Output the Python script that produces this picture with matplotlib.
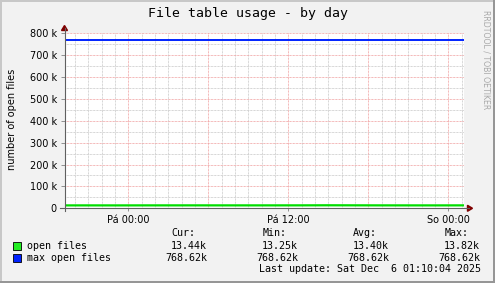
import matplotlib
matplotlib.use("Agg")
import matplotlib.pyplot as plt
from matplotlib.lines import Line2D
from matplotlib.patches import Polygon, Rectangle
from matplotlib.ticker import FixedLocator, MultipleLocator

# ---------------- data ----------------
title = "File table usage - by day"
ylabel = "number of open files"
hours = [-4.78, -3.0, -1.0, 1.0, 3.0, 5.0, 7.0, 9.0, 11.0, 13.0, 15.0, 17.0, 19.0, 21.0, 23.0, 25.2]
open_files = [13300, 13350, 13250, 13380, 13420, 13450, 13400, 13380, 13420, 13500, 13820, 13600, 13400, 13350, 13300, 13440]
max_open_files = [768620] * len(hours)
xtick_pos = [0, 12, 24]
xtick_labels = ["Pá 00:00", "Pá 12:00", "So 00:00"]
ytick_vals = [0, 100000, 200000, 300000, 400000, 500000, 600000, 700000, 800000]
ytick_labels = ["0", "100 k", "200 k", "300 k", "400 k", "500 k", "600 k", "700 k", "800 k"]
series_names = ["open files", "max open files"]
series_colors = ["#00dd00", "#0022ff"]
stat_headers = ["Cur:", "Min:", "Avg:", "Max:"]
stats = [["13.44k", "13.25k", "13.40k", "13.82k"],
         ["768.62k", "768.62k", "768.62k", "768.62k"]]
last_update = "Last update: Sat Dec  6 01:10:04 2025"
x_min, x_max = -4.785, 25.215

W, H = 495, 283
fig = plt.figure(figsize=(W / 100, H / 100), dpi=100)
fig.patch.set_facecolor("#f2f2f2")

def fx(px):
    return px / W

def fy(py):
    return 1 - py / H

# plot area in pixels
L, R, T, B = 64.5, 464.5, 33.3, 208.3
ax = fig.add_axes([fx(L), fy(B), fx(R - L), (B - T) / H])
ax.set_facecolor("white")
ax.set_xlim(x_min, x_max)
ax.set_ylim(0, 800000)
for s in ax.spines.values():
    s.set_visible(False)

dot = (0, (0.72, 0.72))
# minor grid
for h in range(-4, 26):
    if h % 6 != 0:
        ax.axvline(h, color="#c8c8c8", lw=0.72, ls=dot, zorder=1)
for v in range(50000, 800001, 100000):
    ax.axhline(v, color="#c8c8c8", lw=0.72, ls=dot, zorder=1)
# major grid
for h in range(-0, 26, 6):
    ax.axvline(h, color="#f0a0a0", lw=0.72, ls=dot, zorder=1)
for v in ytick_vals[1:]:
    ax.axhline(v, color="#f0a0a0", lw=0.72, ls=dot, zorder=1)

ax.plot(hours, max_open_files, color=series_colors[1], lw=1.4, zorder=3, solid_capstyle="butt")
ax.plot(hours, open_files, color=series_colors[0], lw=1.6, zorder=3, solid_capstyle="butt")

ax.yaxis.set_major_locator(FixedLocator(ytick_vals))
ax.set_yticklabels(ytick_labels)
ax.xaxis.set_major_locator(FixedLocator(xtick_pos))
ax.set_xticklabels(xtick_labels)
ax.tick_params(axis="y", length=3, width=0.6, color="#808080", pad=2.5,
               labelsize=7, labelcolor="black")
ax.tick_params(axis="x", length=2, width=0.6, color="#808080", pad=3,
               labelsize=7, labelcolor="black")
for lab in ax.get_xticklabels() + ax.get_yticklabels():
    lab.set_fontfamily("DejaVu Sans")

# axes lines with arrows (decoration)
axis_col = "#606060"
arrow_col = "#800000"
fig.add_artist(Line2D([fx(L), fx(L)], [fy(B + 3), fy(28)], color=axis_col, lw=0.8))
fig.add_artist(Line2D([fx(60), fx(469)], [fy(B), fy(B)], color=axis_col, lw=0.8))
fig.add_artist(Polygon([[fx(L - 3), fy(30.5)], [fx(L + 3), fy(30.5)], [fx(L), fy(25.5)]],
                       closed=True, color=arrow_col, transform=fig.transFigure))
fig.add_artist(Polygon([[fx(467.5), fy(B - 3)], [fx(467.5), fy(B + 3)], [fx(472.5), fy(B)]],
                       closed=True, color=arrow_col, transform=fig.transFigure))

# title and labels
fig.text(fx(247.5), fy(14), title, ha="center", va="center",
         fontsize=9.5, family="DejaVu Sans Mono", color="black")
fig.text(fx(11.7), fy(119), ylabel, ha="center", va="center", rotation=90,
         fontsize=7, family="DejaVu Sans", color="black")
fig.text(fx(486), fy(60), "RRDTOOL / TOBI OETIKER", ha="center", va="center",
         rotation=270, fontsize=5.6, family="DejaVu Sans", color="#a8a8a8")

# legend / stats
mono = dict(family="DejaVu Sans Mono", fontsize=7.2, color="black", va="center")
header_x = [171, 263, 353, 445]
value_right = [207, 298, 389, 480]
row_y = [245.7, 257.7]
for hx, htxt in zip(header_x, stat_headers):
    fig.text(fx(hx), fy(233.3), htxt, ha="left", **mono)
for i, name in enumerate(series_names):
    fig.add_artist(Rectangle((fx(12.7), fy(row_y[i] + 4)), fx(8), 8 / H,
                             facecolor=series_colors[i] if i else "#22ee22",
                             edgecolor="black", lw=0.6, transform=fig.transFigure))
    fig.text(fx(26.7), fy(row_y[i]), name, ha="left", **mono)
    for vx, val in zip(value_right, stats[i]):
        fig.text(fx(vx), fy(row_y[i]), val, ha="right", **mono)
fig.text(fx(481), fy(269.3), last_update, ha="right", **mono)

# frame shading
fig.add_artist(Rectangle((0, 0), fx(2), 1, facecolor="#c8c8c8", lw=0, transform=fig.transFigure))
fig.add_artist(Rectangle((0, 1 - 2 / H), 1, 2 / H, facecolor="#c8c8c8", lw=0, transform=fig.transFigure))
fig.add_artist(Rectangle((1 - fx(2), 0), fx(2), 1, facecolor="#969696", lw=0, transform=fig.transFigure))
fig.add_artist(Rectangle((0, 0), 1, 2 / H, facecolor="#969696", lw=0, transform=fig.transFigure))

fig.savefig("out.png", dpi=100, facecolor=fig.get_facecolor())
